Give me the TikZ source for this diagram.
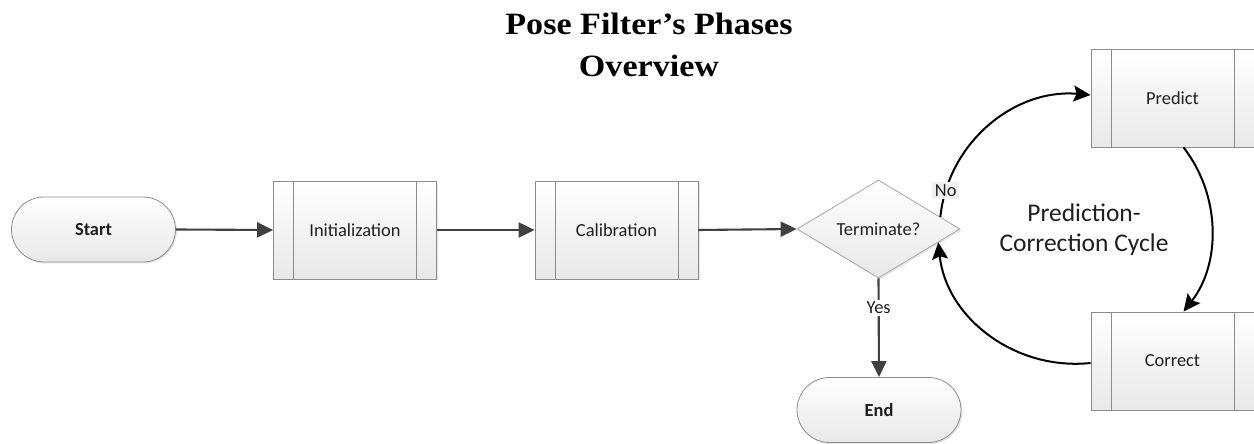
\documentclass[tikz,border=0pt]{standalone}
\usepackage{fontspec}
\setmainfont{Carlito}
\newfontfamily\titlefont{Liberation Serif}[FakeStretch=1.1]
\usetikzlibrary{shapes.geometric,shapes.misc,arrows.meta,shadows,calc}
\begin{document}
\begin{tikzpicture}[x=1pt,y=1pt,
  txt/.style={font=\fontsize{18.4}{22}\selectfont,text=black!88},
  boxfill/.style={top color=white,bottom color=black!9,draw=black!45,line width=0.8pt,
     drop shadow={shadow xshift=1.5pt,shadow yshift=-1.5pt,opacity=0.2}},
  procbox/.style={boxfill,txt,rectangle,minimum width=163pt,minimum height=98pt,inner sep=0pt,
     path picture={\draw[black!45,line width=0.8pt]
        ([xshift=20pt]path picture bounding box.north west) -- ([xshift=20pt]path picture bounding box.south west)
        ([xshift=-20pt]path picture bounding box.north east) -- ([xshift=-20pt]path picture bounding box.south east);}},
  termbox/.style={boxfill,txt,rounded rectangle,minimum width=164pt,minimum height=65pt,inner sep=0pt,font=\fontsize{18.4}{22}\selectfont\bfseries},
  decbox/.style={boxfill,txt,diamond,aspect=1.66,minimum width=163pt,minimum height=98pt,inner sep=0pt,draw=black!35},
  conn/.style={draw=black!75,line width=2.1pt,-{Triangle[length=16pt,width=15pt]}},
  cycarrow/.style={draw=black,line width=2pt,-{Stealth[length=17pt,width=16pt,inset=3pt]}},
  lbl/.style={txt,inner sep=2.5pt}
]
\useasboundingbox (0,0) rectangle (1254,444);

% title
\node[font=\titlefont\fontsize{31}{40}\selectfont\bfseries,anchor=base] (t1) at (649,409) {Pose Filter’s Phases};
\node[font=\titlefont\fontsize{31}{40}\selectfont\bfseries,anchor=base] (t2) at (649,367) {Overview};

% nodes
\node[termbox] (start) at (93.5,214.5) {Start};
\node[procbox] (init) at (355,214) {Initialization};
\node[procbox] (calib) at (616.5,214) {Calibration};
\node[decbox] (term) at (878.5,215) {Terminate?};
\node[termbox] (end) at (879,34) {End};
\node[procbox] (predict) at (1172.5,346) {Predict};
\node[procbox] (correct) at (1172.5,83) {Correct};

\node[font=\fontsize{25.5}{30}\selectfont,text=black!88,align=center] (cyclbl) at (1084,214) {Prediction-\\Correction Cycle};

% connectors
\draw[conn] (start.east) -- (init.west);
\draw[conn] (init.east) -- (calib.west);
\draw[conn] (calib.east) -- (term.west);
\draw[conn] (term.south) -- node[lbl,pos=0.3,fill=white] (yes) {Yes} (end.north);

\coordinate (noStart) at ($(term.east)!0.245!(term.north)$);
\coordinate (backEnd) at ($(term.east)!0.27!(term.south)$);

\draw[cycarrow] (noStart) to[out=84,in=175,looseness=1] node[lbl,pos=0.12,fill=black!6] (no) {No} ([yshift=3pt]predict.west);
\draw[cycarrow] ([xshift=11pt]predict.south) to[out=-52,in=52,looseness=0.95] ([xshift=11pt]correct.north);
\draw[cycarrow] ([yshift=-2pt]correct.west) to[out=186,in=-84,looseness=1] (backEnd);
\end{tikzpicture}
\end{document}
